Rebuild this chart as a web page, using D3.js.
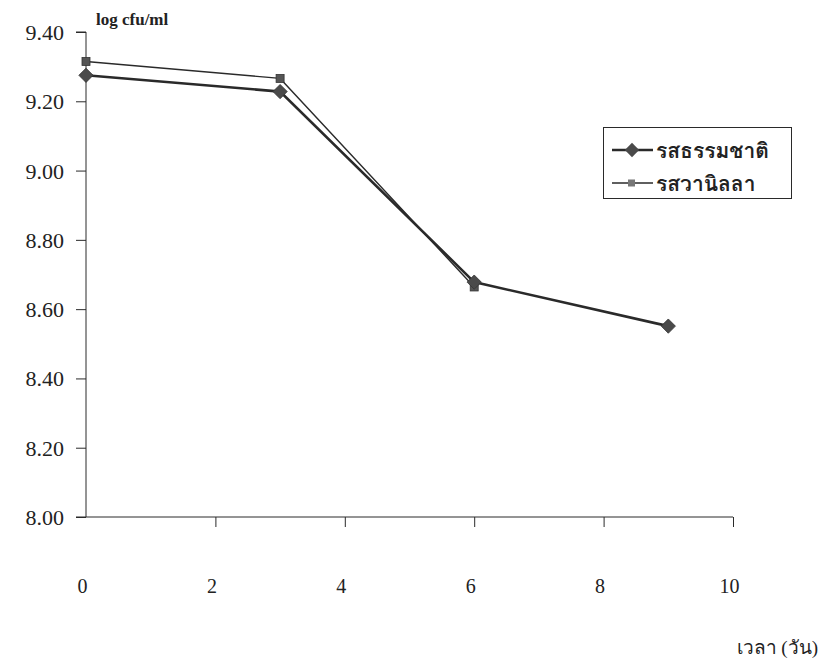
<!DOCTYPE html>
<html><head><meta charset="utf-8">
<script src="https://cdn.jsdelivr.net/npm/d3@7"></script>
<style>body{margin:0;background:#fff}svg{display:block}</style>
</head><body>
<svg id="c" width="819" height="661"></svg>
<script>
const days = [0, 3, 6, 9];
const natural = [9.275, 9.228, 8.678, 8.551];      // รสธรรมชาติ
const vanilla = [9.315, 9.266, 8.664];             // รสวานิลลา
const yTicks = [8.00, 8.20, 8.40, 8.60, 8.80, 9.00, 9.20, 9.40];
const xTicks = [0, 2, 4, 6, 8, 10];
const seriesNames = ["รสธรรมชาติ", "รสวานิลลา"];
const yTitle = "log cfu/ml";
const xTitle = "เวลา (วัน)";

const serif = '"Liberation Serif","Times New Roman",serif';
const svg = d3.select("#c");
const x = d3.scaleLinear().domain([0, 10]).range([86, 733]);
const y = d3.scaleLinear().domain([8.0, 9.4]).range([517, 32]);
const ink = "#2a2a2a";

// Y axis
const ya = svg.append("g").attr("transform", `translate(${x(0)},0)`)
  .call(d3.axisLeft(y).tickValues(yTicks).tickSize(10).tickFormat(d3.format(".2f")));
ya.attr("font-family", null);
ya.select(".domain").attr("stroke", ink).attr("d", `M-10,${y(9.4)}H0V${y(8.0)}`);
ya.selectAll(".tick line").attr("stroke", ink);
ya.selectAll(".tick text").style("font-family", serif).style("font-size", "22px").attr("fill", "#222")
  .attr("x", -22).attr("dy", "0.34em");

// X axis
const xa = svg.append("g").attr("transform", `translate(0,${y(8.0)})`)
  .call(d3.axisBottom(x).tickValues(xTicks).tickSize(10).tickSizeOuter(0));
xa.attr("font-family", null);
xa.select(".domain").attr("stroke", ink).attr("d", `M${x(0) - 10},0H${x(10)}`);
xa.selectAll(".tick line").attr("stroke", ink);
xa.selectAll(".tick text").style("font-family", serif).style("font-size", "20px").attr("fill", "#222")
  .attr("y", 62).attr("dx", -4);
xa.selectAll(".tick").filter(d => d === 0).select("line").remove();

// Titles
svg.append("text").style("font-family", serif).attr("x", 96).attr("y", 25).attr("font-weight", "bold")
  .style("font-size", "17px").attr("fill", "#222").text(yTitle);
svg.append("text").style("font-family", serif).attr("x", 818).attr("y", 654).attr("text-anchor", "end")
  .style("font-size", "19px").attr("fill", "#222").text(xTitle);

const line = d3.line().x((d, i) => x(days[i])).y(d => y(d));

// Vanilla (square) series
svg.append("path").datum(vanilla).attr("d", line).attr("fill", "none").attr("stroke", ink).attr("stroke-width", 1.4);
svg.selectAll(".sq").data(vanilla).enter().append("rect")
  .attr("x", (d, i) => x(days[i]) - 4).attr("y", d => y(d) - 4).attr("width", 8).attr("height", 8)
  .attr("fill", "#555").attr("stroke", "#333").attr("stroke-width", 0.8);

// Natural (diamond) series
svg.append("path").datum(natural).attr("d", line).attr("fill", "none").attr("stroke", ink).attr("stroke-width", 2.6);
const diamond = d3.symbol().type(d3.symbolDiamond2).size(130);
svg.selectAll(".dm").data(natural).enter().append("path")
  .attr("d", diamond).attr("transform", (d, i) => `translate(${x(days[i])},${y(d)})`)
  .attr("fill", "#4a4a4a").attr("stroke", "#333").attr("stroke-width", 0.8);

// Legend
const lg = svg.append("g");
lg.append("rect").attr("x", 603.5).attr("y", 127.5).attr("width", 188).attr("height", 71)
  .attr("fill", "#fff").attr("stroke", ink).attr("stroke-width", 1);
const rows = [150, 183];
lg.append("line").attr("x1", 612).attr("x2", 653).attr("y1", rows[0]).attr("y2", rows[0]).attr("stroke", ink).attr("stroke-width", 2.6);
lg.append("path").attr("d", diamond).attr("transform", `translate(632,${rows[0]})`).attr("fill", "#4a4a4a");
lg.append("line").attr("x1", 612).attr("x2", 653).attr("y1", rows[1]).attr("y2", rows[1]).attr("stroke", ink).attr("stroke-width", 1.4);
lg.append("rect").attr("x", 628).attr("y", rows[1] - 3.5).attr("width", 7).attr("height", 7).attr("fill", "#777");
lg.selectAll(".lt").data(seriesNames).enter().append("text")
  .attr("x", 656).attr("y", (d, i) => rows[i] + 8).style("font-family", "Loma, sans-serif")
  .attr("font-weight", "bold").style("font-size", "21px").attr("fill", "#222").text(d => d);
</script>
</body></html>
